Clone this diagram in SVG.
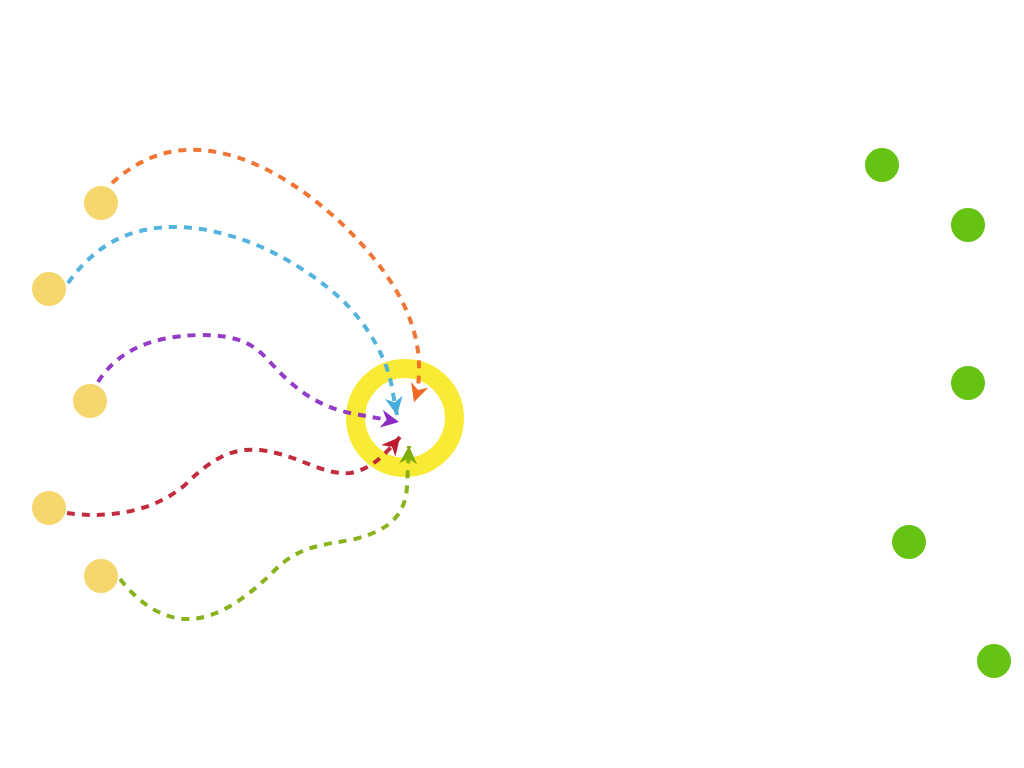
<svg xmlns="http://www.w3.org/2000/svg" width="1024" height="768" viewBox="0 0 1024 768">
<style>
.src{fill:#F5D76E}
.dst{fill:#66C213}
.ring{fill:none;stroke:#F9EB35;stroke-width:19}
.conn{fill:none;stroke-width:4;stroke-dasharray:8 7;stroke-opacity:0.92}
</style>
<defs>
<marker id="aO" viewBox="0 0 10 10" refX="10" refY="5" markerWidth="18" markerHeight="18" markerUnits="userSpaceOnUse" orient="auto"><path d="M0,0 L10,5 L0,10 L3,5 z" fill="#EE6A24"/></marker>
<marker id="aB" viewBox="0 0 10 10" refX="10" refY="5" markerWidth="18" markerHeight="18" markerUnits="userSpaceOnUse" orient="auto"><path d="M0,0 L10,5 L0,10 L3,5 z" fill="#45AEDB"/></marker>
<marker id="aP" viewBox="0 0 10 10" refX="10" refY="5" markerWidth="18" markerHeight="18" markerUnits="userSpaceOnUse" orient="auto"><path d="M0,0 L10,5 L0,10 L3,5 z" fill="#8C2BC2"/></marker>
<marker id="aR" viewBox="0 0 10 10" refX="10" refY="5" markerWidth="18" markerHeight="18" markerUnits="userSpaceOnUse" orient="auto"><path d="M0,0 L10,5 L0,10 L3,5 z" fill="#BE1A2F"/></marker>
<marker id="aG" viewBox="0 0 10 10" refX="10" refY="5" markerWidth="18" markerHeight="18" markerUnits="userSpaceOnUse" orient="auto"><path d="M0,0 L10,5 L0,10 L3,5 z" fill="#7FAD0A"/></marker>
</defs>
<rect width="1024" height="768" fill="#fff"/>
<g id="sources">
<g id="s1"><circle class="src" cx="101" cy="203" r="17"/></g>
<g id="s2"><circle class="src" cx="49" cy="289" r="17"/></g>
<g id="s3"><circle class="src" cx="90" cy="401" r="17"/></g>
<g id="s4"><circle class="src" cx="49" cy="508" r="17"/></g>
<g id="s5"><circle class="src" cx="101" cy="576" r="17"/></g>
</g>
<g id="targets">
<g id="t1"><circle class="dst" cx="882" cy="165" r="17"/></g>
<g id="t2"><circle class="dst" cx="968" cy="225" r="17"/></g>
<g id="t3"><circle class="dst" cx="968" cy="383" r="17"/></g>
<g id="t4"><circle class="dst" cx="909" cy="542" r="17"/></g>
<g id="t5"><circle class="dst" cx="994" cy="661" r="17"/></g>
</g>
<g id="hub"><circle class="ring" cx="405" cy="418" r="49.5"/></g>
<g id="connectors">
<path class="conn" stroke="#EE6A24" marker-end="url(#aO)" d="M112,183 C140,158 168,148 200,150 C250,153 300,185 340,222 C385,265 420,315 419,370 C419,385 417,393 414,402"/>
<path class="conn" stroke="#45AEDB" marker-end="url(#aB)" d="M68,283 C95,245 130,226 178,227 C240,229 300,262 340,298 C370,326 388,362 392,388 L397,415"/>
<path class="conn" stroke="#8C2BC2" marker-end="url(#aP)" d="M98,382 C115,355 145,336 200,335 C240,335 255,345 270,362 C295,390 320,408 355,414 L399,422"/>
<path class="conn" stroke="#BE1A2F" marker-end="url(#aR)" d="M67,513 C100,518 150,515 185,485 C215,455 235,448 260,450 C300,455 320,475 350,473 C370,470 385,455 400,437"/>
<path class="conn" stroke="#7FAD0A" marker-end="url(#aG)" d="M120,579 C140,605 165,620 190,619 C220,618 250,595 275,570 C300,545 325,545 355,539 C390,530 405,515 407,487 L409,446"/>
</g>
</svg>
